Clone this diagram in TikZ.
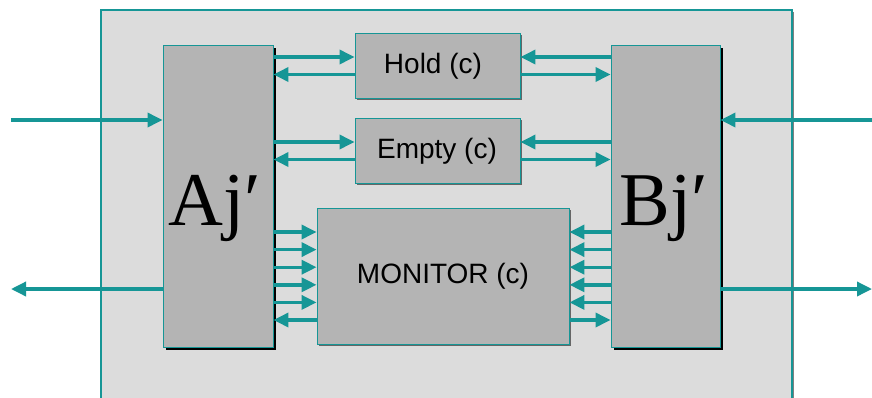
\documentclass[tikz,border=0pt]{standalone}
\usepackage{fontspec}
\setmainfont{Liberation Sans}
\newfontfamily\serifA{Liberation Serif}
\usetikzlibrary{arrows.meta,shadows,calc}
\definecolor{tealc}{RGB}{22,150,150}
\definecolor{boxgray}{RGB}{180,180,180}
\definecolor{panelgray}{RGB}{220,220,220}
\begin{document}
\begin{tikzpicture}[x=1pt,y=-1pt,
  panelbox/.style={draw=tealc, line width=1.2pt, fill=panelgray, inner sep=0pt,
    drop shadow={shadow xshift=2pt, shadow yshift=-2pt, fill=gray, opacity=1}},
  blk/.style={draw=tealc, line width=0.9pt, fill=boxgray, inner sep=0pt,
    drop shadow={shadow xshift=2.5pt, shadow yshift=-2.5pt, fill=black, opacity=1}},
  sblk/.style={draw=tealc, line width=0.9pt, fill=boxgray, inner sep=0pt,
    drop shadow={shadow xshift=2pt, shadow yshift=-2pt, fill=black!60, opacity=1}},
  arr/.style={draw=tealc, line width=3.4pt, -{Triangle[length=15pt,width=14pt]}},
  lbl/.style={font=\fontsize{28}{32}\selectfont, inner sep=0pt},
  big/.style={font=\serifA\fontsize{76}{80}\selectfont, inner sep=0pt}]
\clip (0,0) rectangle (872,397);
\fill[white] (0,0) rectangle (872,397);
% panel
\node[panelbox, minimum width=691pt, minimum height=420pt] (P) at (446.5,220) {};
% blocks
\node[blk, minimum width=110pt, minimum height=302pt] (A) at (218,196) {};
\node[blk, minimum width=109pt, minimum height=302pt] (B) at (665.5,196) {};
\node[sblk, minimum width=165pt, minimum height=65pt] (H) at (437.5,65.5) {};
\node[sblk, minimum width=165pt, minimum height=65pt] (E) at (437.5,150.5) {};
\node[sblk, minimum width=252pt, minimum height=136pt] (M) at (443,276) {};
% texts
\node[lbl] (Ht) at (433,66) {Hold (c)};
\node[lbl] (Et) at (437,151) {Empty (c)};
\node[lbl] (Mt) at (M.center) {MONITOR (c)};
\node[big] (At) at (215,208) {Aj′};
\node[big] (Bt) at (664,208) {Bj′};
% Hold / Empty arrows
\foreach \n in {H,E} {
  \coordinate (\n u) at ($(\n.west)+(0,-8.5)$);
  \coordinate (\n d) at ($(\n.west)+(0,9)$);
  \draw[arr] (A.east |- \n u) -- (\n.west |- \n u);
  \draw[arr] (\n.west |- \n d) -- (A.east |- \n d);
  \draw[arr] (B.west |- \n u) -- (\n.east |- \n u);
  \draw[arr] (\n.east |- \n d) -- (B.west |- \n d);
}
% Monitor arrows
\foreach \i/\d in {1/-44,2/-26.4,3/-8.8,4/8.8,5/26.4} {
  \coordinate (m\i) at ($(M.center)+(0,\d)$);
  \draw[arr] (A.east |- m\i) -- (M.west |- m\i);
  \draw[arr] (B.west |- m\i) -- (M.east |- m\i);
}
\coordinate (m6) at ($(M.center)+(0,44)$);
\draw[arr] (M.west |- m6) -- (A.east |- m6);
\draw[arr] (M.east |- m6) -- (B.west |- m6);
% external arrows
\coordinate (inL) at (11,120);
\coordinate (outL) at (11,289);
\coordinate (inR) at (872,120);
\coordinate (outR) at (872,289);
\draw[arr] (inL) -- (A.west |- inL);
\draw[arr] (A.west |- outL) -- (outL);
\draw[arr] (inR) -- (B.east |- inR);
\draw[arr] (B.east |- outR) -- (outR);
\end{tikzpicture}
\end{document}
